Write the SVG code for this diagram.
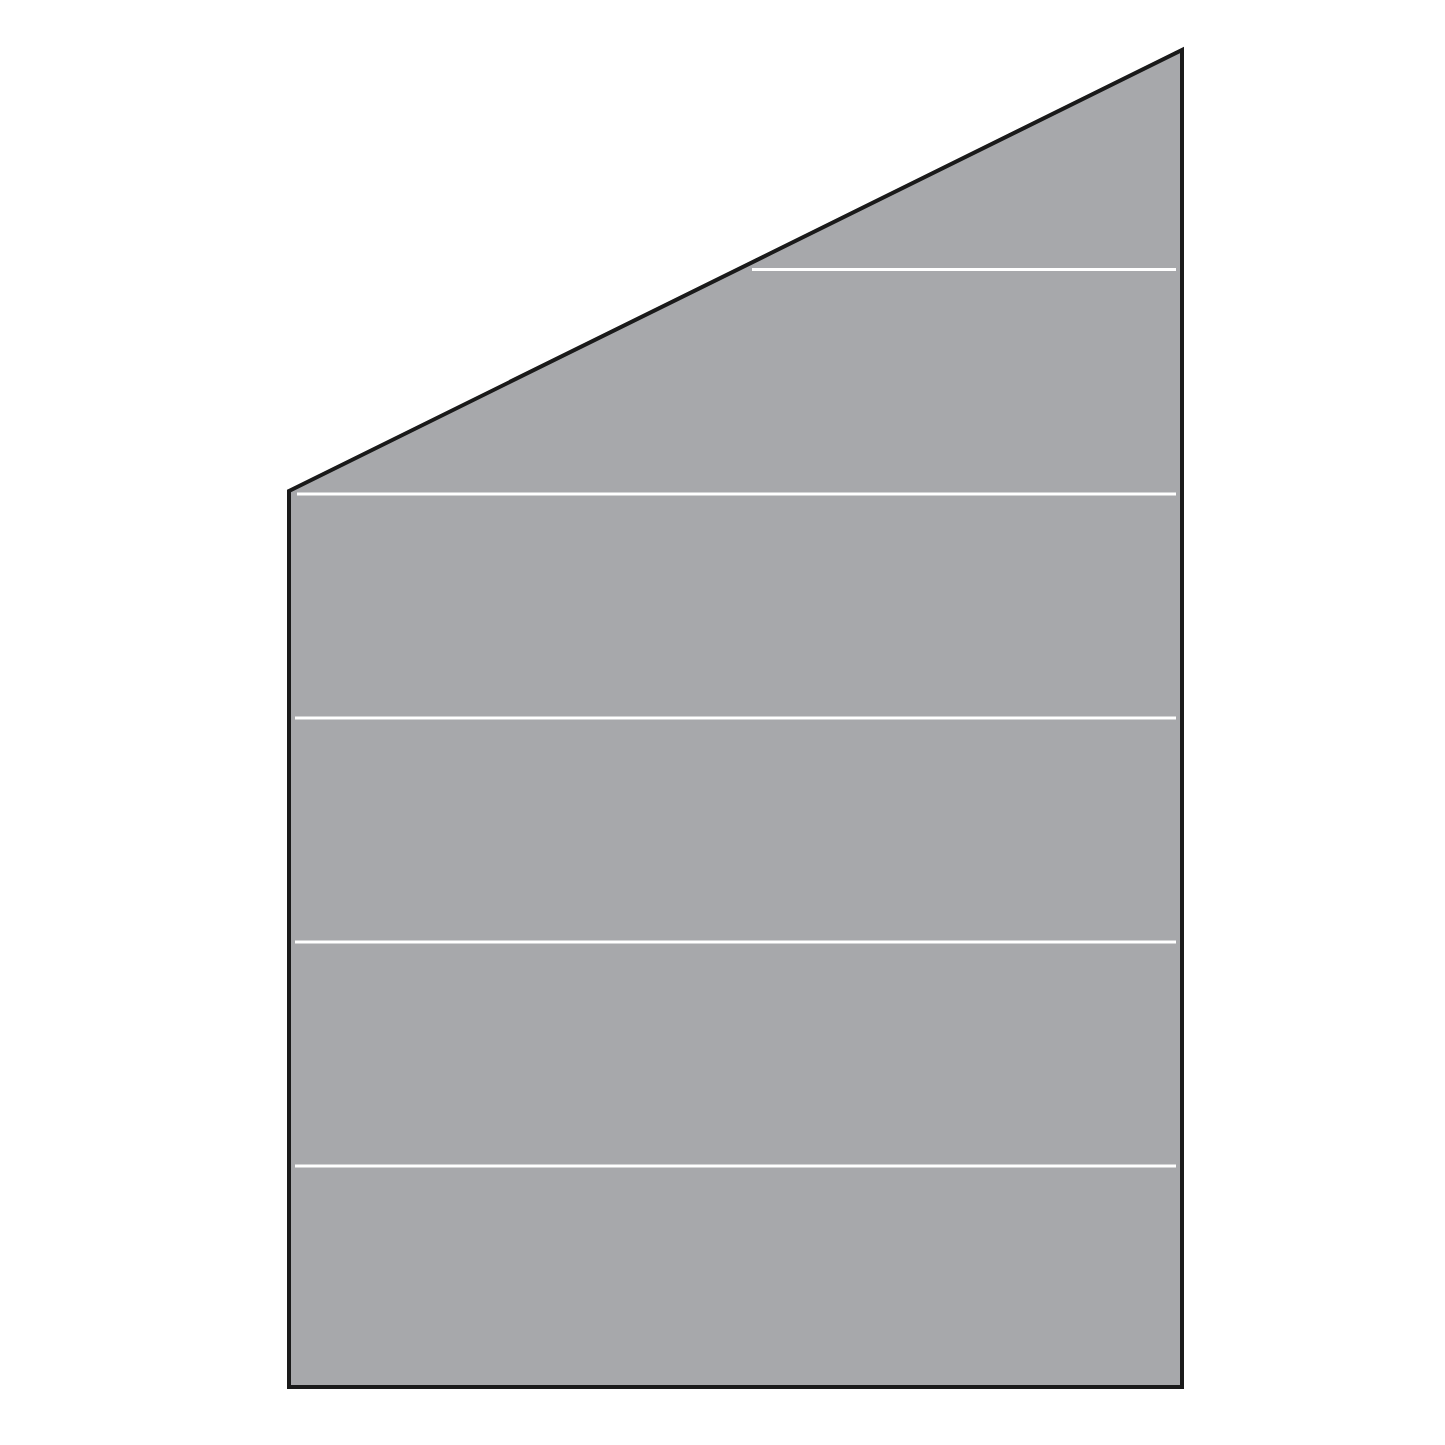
<svg xmlns="http://www.w3.org/2000/svg" width="1445" height="1445" viewBox="0 0 1445 1445">
<style>
.panel{fill:#a7a8ab;stroke:#1a1a1a;stroke-width:4;stroke-linejoin:miter}
.seam{stroke:#ffffff;stroke-width:3;fill:none}
</style>
<rect width="1445" height="1445" fill="#ffffff"/>
<g id="panel">
<polygon class="panel" points="289,491 1182,50 1182,1387 289,1387"/>
</g>
<g id="seams">
<line class="seam" x1="752" y1="269.5" x2="1176" y2="269.5"/>
<line class="seam" x1="297" y1="494" x2="1176" y2="494"/>
<line class="seam" x1="295" y1="718" x2="1176" y2="718"/>
<line class="seam" x1="295" y1="942" x2="1176" y2="942"/>
<line class="seam" x1="295" y1="1166" x2="1176" y2="1166"/>
</g>
</svg>
